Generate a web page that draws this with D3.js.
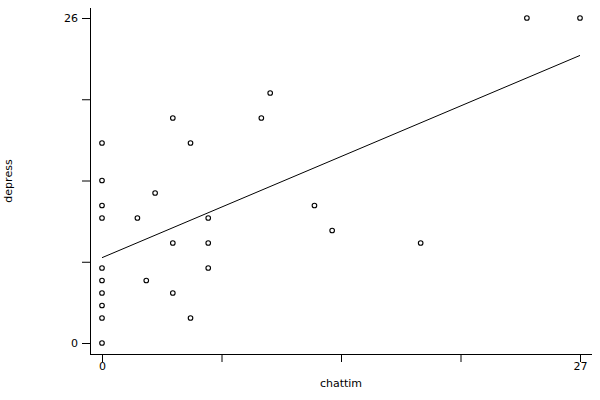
<!DOCTYPE html>
<html>
<head>
<meta charset="utf-8">
<script src="https://cdn.jsdelivr.net/npm/d3@7"></script>
<style>
  html, body { margin: 0; padding: 0; background: #fff; }
  svg { display: block; }
  text { font-family: "DejaVu Sans", sans-serif; font-size: 11px; fill: #000; }
</style>
</head>
<body>
<svg id="chart" width="600" height="400"></svg>
<script>
// Data
const chattim = [0, 5, 0, 3, 0, 0, 2, 6, 4, 6, 0, 6, 0, 2.5, 0, 4, 0, 0, 5, 0, 9.5, 9, 12, 13, 24, 27, 18, 4];
const depress = [16, 16, 13, 12, 11, 10, 10, 10, 8, 8, 6, 6, 5, 5, 4, 4, 3, 2, 2, 0, 20, 18, 11, 9, 26, 26, 8, 18];
const xTicks = [0, 6.75, 13.5, 20.25, 27];
const yTicks = [0, 6.5, 13, 19.5, 26];
const xTickLabels = ["0", "", "", "", "27"];
const yTickLabels = ["0", "", "", "", "26"];
const xTitle = "chattim";
const yTitle = "depress";

const svg = d3.select("#chart");
const x = d3.scaleLinear().domain([0, 27]).range([102, 580]);
const y = d3.scaleLinear().domain([0, 26]).range([343, 18]);

const axisX = 90, axisY = 354;

// X axis
const gx = svg.append("g").attr("transform", `translate(0,${axisY})`);
gx.call(d3.axisBottom(x).tickValues(xTicks).tickSize(8).tickSizeOuter(0)
  .tickFormat((d, i) => xTickLabels[i]));
gx.select(".domain").remove();
gx.append("line").attr("x1", axisX).attr("x2", 592).attr("y1", 0.5).attr("y2", 0.5)
  .attr("stroke", "#000").attr("stroke-width", 1);
gx.selectAll(".tick line").attr("stroke", "#000");
gx.selectAll(".tick text").attr("dy", "0.9em").attr("y", 6)
  .style("font-family", "DejaVu Sans").style("font-size", "11px");

// Y axis
const gy = svg.append("g").attr("transform", `translate(${axisX},0)`);
gy.call(d3.axisLeft(y).tickValues(yTicks).tickSize(8).tickSizeOuter(0)
  .tickFormat((d, i) => yTickLabels[i]));
gy.select(".domain").remove();
gy.append("line").attr("x1", 0.5).attr("x2", 0.5).attr("y1", 8).attr("y2", axisY + 1)
  .attr("stroke", "#000").attr("stroke-width", 1);
gy.selectAll(".tick line").attr("stroke", "#000");
gy.selectAll(".tick text").attr("x", -12)
  .style("font-family", "DejaVu Sans").style("font-size", "11px");

// Regression line (OLS fit from the data)
const n = chattim.length;
const mx = d3.mean(chattim), my = d3.mean(depress);
let sxy = 0, sxx = 0;
for (let i = 0; i < n; i++) {
  sxy += (chattim[i] - mx) * (depress[i] - my);
  sxx += (chattim[i] - mx) ** 2;
}
const b = sxy / sxx, a = my - b * mx;
const ext = d3.extent(chattim);
svg.append("path")
  .datum(ext.map(v => [v, a + b * v]))
  .attr("d", d3.line().x(d => x(d[0])).y(d => y(d[1])))
  .attr("fill", "none").attr("stroke", "#000").attr("stroke-width", 1);

// Points
svg.append("g").selectAll("circle")
  .data(chattim.map((v, i) => [v, depress[i]]))
  .join("circle")
  .attr("cx", d => x(d[0])).attr("cy", d => y(d[1]))
  .attr("r", 2.3)
  .attr("fill", "#fff").attr("stroke", "#000").attr("stroke-width", 1.1);

// Titles
svg.append("text").attr("x", (90 + 592) / 2).attr("y", 387)
  .attr("text-anchor", "middle").text(xTitle);
svg.append("text").attr("transform", `translate(12,${(8 + 354) / 2}) rotate(-90)`)
  .attr("text-anchor", "middle").text(yTitle);
</script>
</body>
</html>
